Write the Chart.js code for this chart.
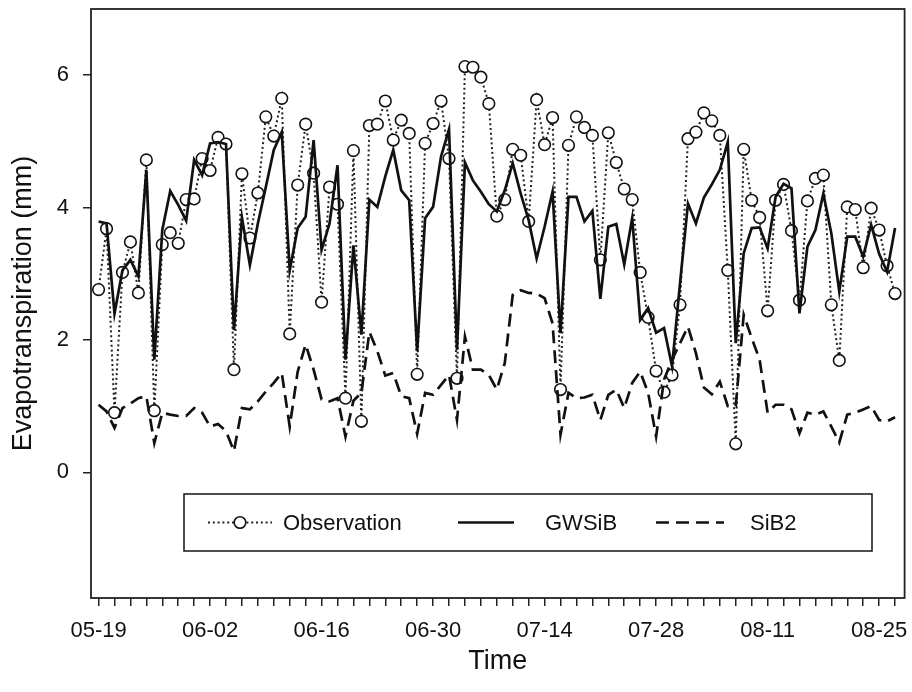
<!DOCTYPE html>
<html>
<head>
<meta charset="utf-8">
<script src="https://cdn.jsdelivr.net/npm/chart.js@4"></script>
<style>
  html, body { margin: 0; padding: 0; background: #fff; }
  #wrap { width: 912px; height: 692px; }
</style>
</head>
<body>
<div id="wrap"><canvas id="etChart" width="912" height="692"></canvas></div>
<script>
// day 0 = 05-19, one value per day
const tickLabels = ['05-19', '06-02', '06-16', '06-30', '07-14', '07-28', '08-11', '08-25'];
const yTicks = [0, 2, 4, 6];

const observation = [
  2.76, 3.68, 0.90, 3.02, 3.48, 2.71, 4.72, 0.93, 3.44, 3.62,
  3.46, 4.12, 4.13, 4.74, 4.56, 5.06, 4.96, 1.55, 4.51, 3.54,
  4.22, 5.37, 5.08, 5.65, 2.09, 4.34, 5.26, 4.52, 2.57, 4.31,
  4.05, 1.12, 4.86, 0.77, 5.24, 5.26, 5.61, 5.02, 5.32, 5.12,
  1.48, 4.97, 5.27, 5.61, 4.74, 1.42, 6.13, 6.12, 5.97, 5.57,
  3.87, 4.12, 4.88, 4.79, 3.79, 5.63, 4.95, 5.36, 1.25, 4.94,
  5.37, 5.21, 5.09, 3.21, 5.13, 4.68, 4.28, 4.12, 3.02, 2.34,
  1.53, 1.21, 1.47, 2.53, 5.04, 5.14, 5.43, 5.31, 5.09, 3.05,
  0.43, 4.88, 4.11, 3.85, 2.44, 4.11, 4.35, 3.65, 2.60, 4.10,
  4.44, 4.49, 2.53, 1.69, 4.01, 3.97, 3.09, 3.99, 3.66, 3.12,
  2.70
];

const gwsib = [
  3.79, 3.76, 2.40, 3.05, 3.21, 2.96, 4.57, 1.70, 3.66, 4.25,
  4.04, 3.80, 4.72, 4.49, 4.97, 4.99, 4.96, 2.15, 3.85, 3.13,
  3.76, 4.31, 4.87, 5.14, 3.05, 3.69, 3.86, 5.02, 3.36, 3.76,
  4.64, 1.70, 3.43, 2.08, 4.12, 4.01, 4.47, 4.87, 4.26, 4.11,
  1.83, 3.84, 4.01, 4.77, 5.18, 1.85, 4.68, 4.41, 4.24, 4.05,
  3.94, 4.26, 4.67, 4.21, 3.81, 3.23, 3.71, 4.24, 2.10, 4.16,
  4.16, 3.79, 3.95, 2.62, 3.71, 3.75, 3.14, 3.84, 2.30, 2.48,
  2.11, 2.18, 1.60, 2.85, 4.06, 3.76, 4.15, 4.35, 4.57, 4.99,
  1.95, 3.31, 3.69, 3.70, 3.38, 4.16, 4.36, 4.29, 2.40, 3.41,
  3.66, 4.21, 3.61, 2.73, 3.56, 3.56, 3.26, 3.74, 3.30, 3.03,
  3.69
];

const sib2 = [
  1.02, 0.92, 0.67, 0.97, 1.04, 1.12, 1.15, 0.44, 0.90, 0.87,
  0.85, 0.85, 0.97, 0.90, 0.69, 0.73, 0.62, 0.32, 0.97, 0.95,
  1.07, 1.22, 1.35, 1.50, 0.69, 1.52, 1.93, 1.55, 1.10, 1.07,
  1.12, 0.54, 1.08, 1.20, 2.12, 1.83, 1.46, 1.50, 1.15, 1.12,
  0.58, 1.20, 1.17, 1.32, 1.47, 0.79, 2.05, 1.55, 1.55, 1.47,
  1.25, 1.65, 2.68, 2.75, 2.71, 2.70, 2.63, 2.25, 0.57, 1.20,
  1.12, 1.13, 1.17, 0.79, 1.17, 1.25, 0.97, 1.35, 1.52, 1.20,
  0.54, 1.40, 1.70, 1.95, 2.20, 1.80, 1.28, 1.18, 1.37, 1.00,
  1.00, 2.38, 2.03, 1.70, 0.90, 1.02, 1.02, 0.95, 0.59, 0.90,
  0.87, 0.92, 0.69, 0.45, 0.87, 0.90, 0.95, 1.00, 0.79, 0.77,
  0.83
];

const FONT = "'Liberation Sans', Arial, Helvetica, sans-serif";
const INK = '#111';

const toPoints = arr => arr.map((v, i) => ({ x: i, y: v }));

// frame around the plot + legend box inside it
const framePlugin = {
  id: 'frameAndLegend',
  afterDraw(chart) {
    const { ctx, chartArea } = chart;
    ctx.save();
    ctx.strokeStyle = '#222';
    ctx.lineWidth = 1.8;
    ctx.strokeRect(chartArea.left, chartArea.top,
      chartArea.right - chartArea.left, chartArea.bottom - chartArea.top);

    // legend
    const box = { l: 184, t: 494, r: 872, b: 551 };
    ctx.lineWidth = 1.6;
    ctx.fillStyle = '#fff';
    ctx.fillRect(box.l, box.t, box.r - box.l, box.b - box.t);
    ctx.strokeRect(box.l, box.t, box.r - box.l, box.b - box.t);
    const cy = (box.t + box.b) / 2;
    const items = [
      { ds: 0, x0: 208, x1: 272, tx: 283 },
      { ds: 1, x0: 458, x1: 514, tx: 545 },
      { ds: 2, x0: 656, x1: 724, tx: 750 }
    ];
    ctx.font = '22px ' + FONT;
    ctx.textBaseline = 'middle';
    ctx.textAlign = 'left';
    items.forEach(it => {
      const ds = chart.data.datasets[it.ds];
      ctx.strokeStyle = ds.borderColor;
      ctx.lineWidth = ds.borderWidth;
      ctx.setLineDash(ds.borderDash || []);
      ctx.beginPath();
      ctx.moveTo(it.x0, cy);
      ctx.lineTo(it.x1, cy);
      ctx.stroke();
      ctx.setLineDash([]);
      if (ds.pointRadius > 0) {
        const mx = (it.x0 + it.x1) / 2;
        ctx.fillStyle = '#fff';
        ctx.beginPath();
        ctx.arc(mx, cy, ds.pointRadius, 0, Math.PI * 2);
        ctx.fill();
        ctx.strokeStyle = ds.pointBorderColor;
        ctx.lineWidth = ds.pointBorderWidth;
        ctx.stroke();
      }
      ctx.fillStyle = INK;
      ctx.fillText(ds.label, it.tx, cy + 1);
    });
    ctx.restore();
  }
};

new Chart(document.getElementById('etChart'), {
  type: 'line',
  data: {
    datasets: [
      {
        label: 'Observation',
        data: toPoints(observation),
        order: 3,
        borderColor: '#222',
        borderWidth: 2,
        borderDash: [2, 2.8],
        pointRadius: 5.8,
        pointHoverRadius: 5.8,
        pointBorderWidth: 1.6,
        pointBorderColor: '#111',
        pointBackgroundColor: '#fff',
        tension: 0
      },
      {
        label: 'GWSiB',
        data: toPoints(gwsib),
        order: 1,
        borderColor: '#111',
        borderWidth: 2.7,
        pointRadius: 0,
        tension: 0
      },
      {
        label: 'SiB2',
        data: toPoints(sib2),
        order: 2,
        borderColor: '#111',
        borderWidth: 2.7,
        borderDash: [13, 7],
        pointRadius: 0,
        tension: 0
      }
    ]
  },
  options: {
    responsive: false,
    animation: false,
    devicePixelRatio: 1,
    layout: { padding: { top: 9, right: 1, left: 0, bottom: 0 } },
    plugins: {
      legend: { display: false },
      tooltip: { enabled: false }
    },
    scales: {
      x: {
        type: 'linear',
        min: -0.95,
        max: 101.2,
        afterBuildTicks: scale => {
          const t = [];
          for (let d = 0; d <= 100; d += 2) t.push({ value: d });
          scale.ticks = t;
        },
        afterFit: scale => {
          scale.height = 94;
          scale.paddingLeft = 0;
          scale.paddingRight = 0;
        },
        grid: {
          display: true,
          drawOnChartArea: false,
          drawTicks: true,
          tickLength: 8,
          color: '#222',
          lineWidth: 1.5
        },
        border: { display: false },
        ticks: {
          autoSkip: false,
          maxRotation: 0,
          padding: 12,
          color: INK,
          font: { family: FONT, size: 22 },
          callback: v => (v % 14 === 0 ? tickLabels[v / 14] : '')
        },
        title: {
          display: true,
          text: 'Time',
          color: INK,
          font: { family: FONT, size: 27 },
          padding: { top: 0, bottom: 14 }
        }
      },
      y: {
        type: 'linear',
        min: -1.9,
        max: 7.0,
        afterBuildTicks: scale => {
          scale.ticks = yTicks.map(v => ({ value: v }));
        },
        afterFit: scale => {
          scale.width = 91;
          scale.paddingTop = 0;
          scale.paddingBottom = 0;
        },
        grid: {
          display: true,
          drawOnChartArea: false,
          drawTicks: true,
          tickLength: 8,
          color: '#222',
          lineWidth: 1.5
        },
        border: { display: false },
        ticks: {
          padding: 14,
          color: INK,
          font: { family: FONT, size: 22 },
          callback: v => String(v)
        },
        title: {
          display: true,
          text: 'Evapotranspiration (mm)',
          color: INK,
          font: { family: FONT, size: 27 },
          padding: { top: 7, bottom: 0 }
        }
      }
    }
  },
  plugins: [framePlugin]
});
</script>
</body>
</html>
